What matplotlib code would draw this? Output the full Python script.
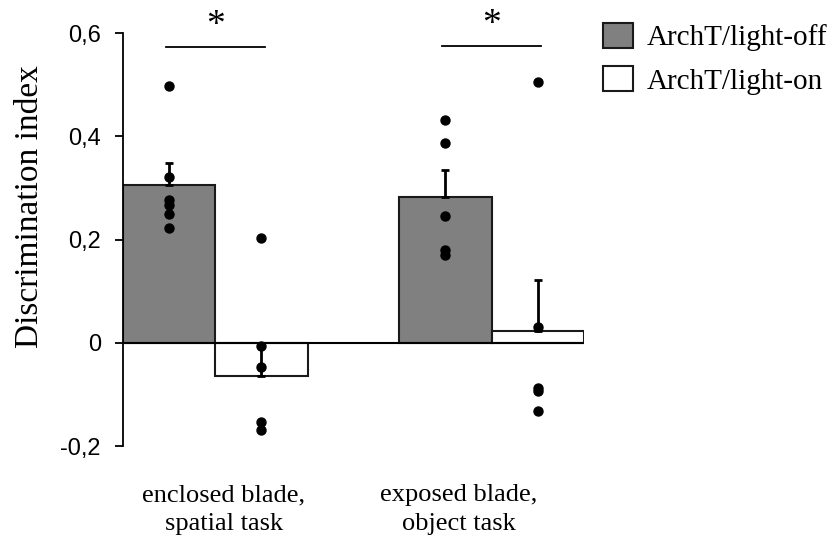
import numpy as np
import matplotlib
matplotlib.use("Agg")
import matplotlib.pyplot as plt
from matplotlib.patches import Patch

# values
groups = ["enclosed blade,\nspatial task", "exposed blade,\nobject task"]
series = ["ArchT/light-off", "ArchT/light-on"]
means_off = [0.306, 0.282]
means_on = [-0.064, 0.022]
err_off = [0.042, 0.053]
err_on = [0.058, 0.100]   # drawn toward zero for the negative bar
dots_off = [[0.498, 0.321, 0.277, 0.267, 0.250, 0.223],
            [0.431, 0.387, 0.245, 0.180, 0.170]]
dots_on = [[0.203, -0.007, -0.047, -0.153, -0.169],
           [0.506, 0.030, -0.087, -0.094, -0.133]]
sig_y = [0.574, 0.576]
label_x = [0.03, 0.88]

serif = ["Liberation Serif", "DejaVu Serif"]
sans = ["Liberation Sans", "DejaVu Sans"]

fig = plt.figure(figsize=(8.35, 5.43), dpi=100)
ax = fig.add_axes([0.1473, 0.1786, 0.552, 0.7601])

x = np.arange(len(groups))
w = 0.334

ax.bar(x - w / 2, means_off, w, color="#808080", edgecolor="#1a1a1a", linewidth=1.5, zorder=2)
ax.bar(x + w / 2, means_on, w, color="white", edgecolor="#1a1a1a", linewidth=1.5, zorder=2)

# error bars, one side only
ax.errorbar(x - w / 2, means_off, yerr=[[0, 0], err_off], fmt="none",
            ecolor="black", elinewidth=2, capsize=3, capthick=2, zorder=3)
ax.errorbar(x[0] + w / 2, means_on[0], yerr=[[0], [err_on[0]]], fmt="none",
            ecolor="black", elinewidth=2, capsize=3, capthick=2, zorder=3)
ax.errorbar(x[1] + w / 2, means_on[1], yerr=[[0], [err_on[1]]], fmt="none",
            ecolor="black", elinewidth=2, capsize=3, capthick=2, zorder=3)

for i in range(len(groups)):
    ax.scatter([x[i] - w / 2] * len(dots_off[i]), dots_off[i], s=42, color="black", zorder=4)
    ax.scatter([x[i] + w / 2] * len(dots_on[i]), dots_on[i], s=42, color="black", zorder=4)

ax.axhline(0, color="black", linewidth=1.5, zorder=3)

# significance
for i in range(len(groups)):
    ax.plot([x[i] - 0.18, x[i] + 0.18], [sig_y[i], sig_y[i]], color="black", linewidth=1.3, clip_on=False)
    ax.text(x[i], sig_y[i] + 0.04, "*", ha="center", va="center", fontsize=27,
            family=serif, clip_on=False)

ax.set_xlim(-w, 1 + w)
ax.set_ylim(-0.2, 0.6)
ax.set_yticks([-0.2, 0, 0.2, 0.4, 0.6])
ax.set_yticklabels(["-0,2", "0", "0,2", "0,4", "0,6"], family=sans, fontsize=17)
ax.tick_params(axis="y", length=6, width=1.3, pad=10)
ax.set_xticks([])
for s in ["top", "right", "bottom"]:
    ax.spines[s].set_visible(False)
ax.spines["left"].set_linewidth(1.3)

for i in range(len(groups)):
    ax.text(label_x[i], -0.274, groups[i], ha="center", va="top", fontsize=19,
            family=serif, linespacing=1.4, clip_on=False)

ax.set_ylabel("Discrimination index", family=serif, fontsize=24)
ax.yaxis.set_label_coords(-0.17, 0.58)

handles = [Patch(facecolor="#808080", edgecolor="#1a1a1a", linewidth=1.5),
           Patch(facecolor="white", edgecolor="#1a1a1a", linewidth=1.5)]
fig.legend(handles, series, loc="upper left", bbox_to_anchor=(0.722, 0.958),
           frameon=False, prop={"family": serif, "size": 21}, borderpad=0, borderaxespad=0,
           handlelength=1.03, handleheight=0.96, handletextpad=0.48, labelspacing=0.5)

fig.savefig("out.png", dpi=100)
